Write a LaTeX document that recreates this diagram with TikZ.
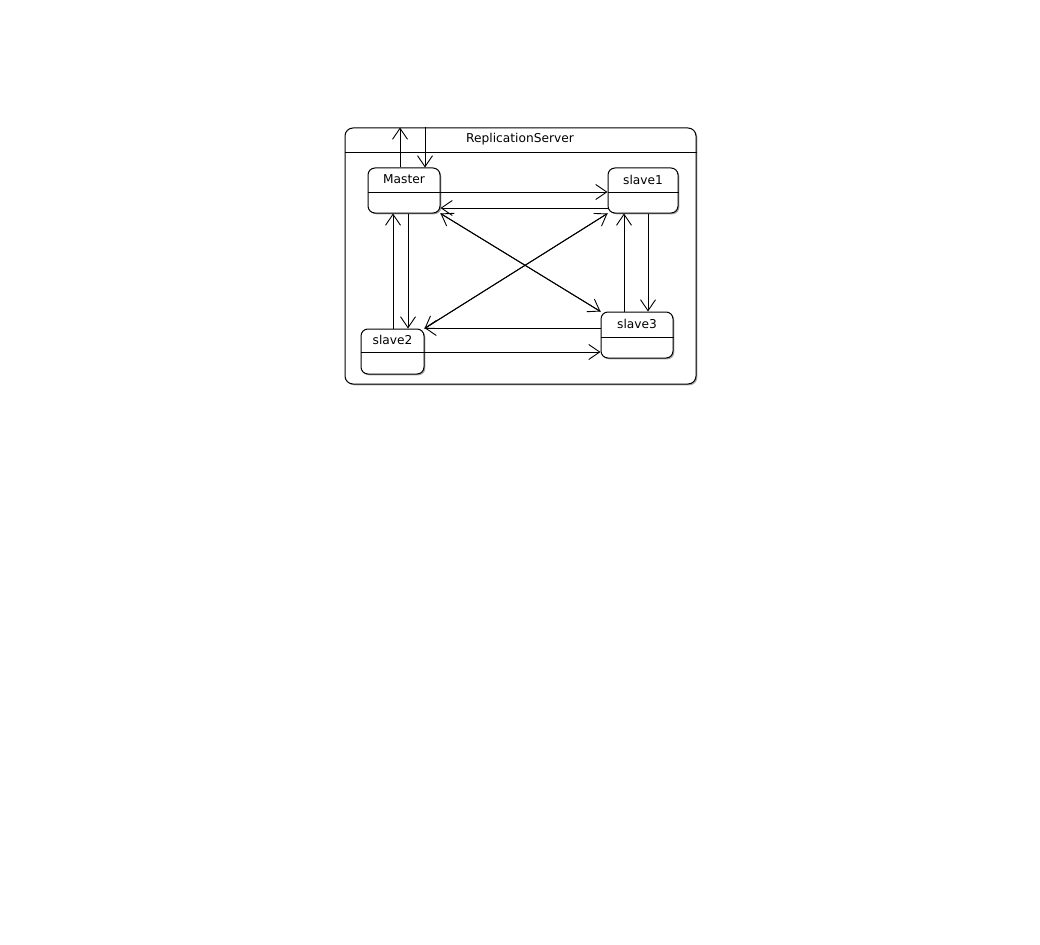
\documentclass[tikz,border=0pt]{standalone}
\usepackage{fontspec}
\setmainfont{DejaVu Sans}
\usetikzlibrary{arrows.meta,shadows}
\begin{document}
\begin{tikzpicture}[x=1pt,y=-1pt,
  box/.style={draw=black, line width=1pt, fill=white, rounded corners=7pt, inner sep=0pt,
    drop shadow={shadow xshift=1.3pt, shadow yshift=-1.3pt, opacity=0.35, fill=black}},
  lbl/.style={font=\fontsize{12.2}{14}\selectfont, inner sep=0pt, anchor=center},
  tr/.style={line width=0.9pt, -{Straight Barb[length=11pt,width=15pt]}},
  sep/.style={line width=0.9pt}]
\useasboundingbox (0,0) rectangle (1040,944);
% container
\node[box, rounded corners=8pt, minimum width=351pt, minimum height=256pt] (rs) at (520.5,256) {};
\node[lbl] (rst) at (520,139) {ReplicationServer};
\draw[sep] (rs.west |- 0,152) -- (rs.east |- 0,152);
% states
\node[box, minimum width=72pt, minimum height=45pt] (m) at (404,190.5) {};
\node[lbl] (mt) at (404,179) {Master};
\draw[sep] (m.west |- 0,192) -- (m.east |- 0,192);
\node[box, minimum width=70pt, minimum height=45pt] (s1) at (643,190.5) {};
\node[lbl] (s1t) at (643,179.5) {slave1};
\draw[sep] (s1.west |- 0,192) -- (s1.east |- 0,192);
\node[box, minimum width=63pt, minimum height=45pt] (s2) at (392.5,351.5) {};
\node[lbl] (s2t) at (392.5,340) {slave2};
\draw[sep] (s2.west |- 0,352) -- (s2.east |- 0,352);
\node[box, minimum width=72pt, minimum height=46pt] (s3) at (637,335) {};
\node[lbl] (s3t) at (637,323.5) {slave3};
\draw[sep] (s3.west |- 0,337) -- (s3.east |- 0,337);
% transitions
\draw[tr] (m.north -| 400,0) -- (rs.north -| 400,0);
\draw[tr] (rs.north -| 425,0) -- (m.north -| 425,0);
\draw[tr] (m.east |- 0,192) -- (s1.west |- 0,192);
\draw[tr] (s1.west |- 0,208) -- (m.east |- 0,208);
\draw[tr] (s2.north -| 393,0) -- (m.south -| 393,0);
\draw[tr] (m.south -| 408,0) -- (s2.north -| 408,0);
\draw[tr] (s3.north -| 624,0) -- (s1.south -| 624,0);
\draw[tr] (s1.south -| 648,0) -- (s3.north -| 648,0);
\draw[tr] (s3.west |- 0,328) -- (s2.east |- 0,328);
\draw[tr] (s2.east |- 0,352) -- (s3.west |- 0,352);
\draw[tr] (m.south east) -- (s3.north west);
\draw[tr] (s3.north west) -- (m.south east);
\draw[tr] (s1.south west) -- (s2.north east);
\draw[tr] (s2.north east) -- (s1.south west);
\end{tikzpicture}
\end{document}
